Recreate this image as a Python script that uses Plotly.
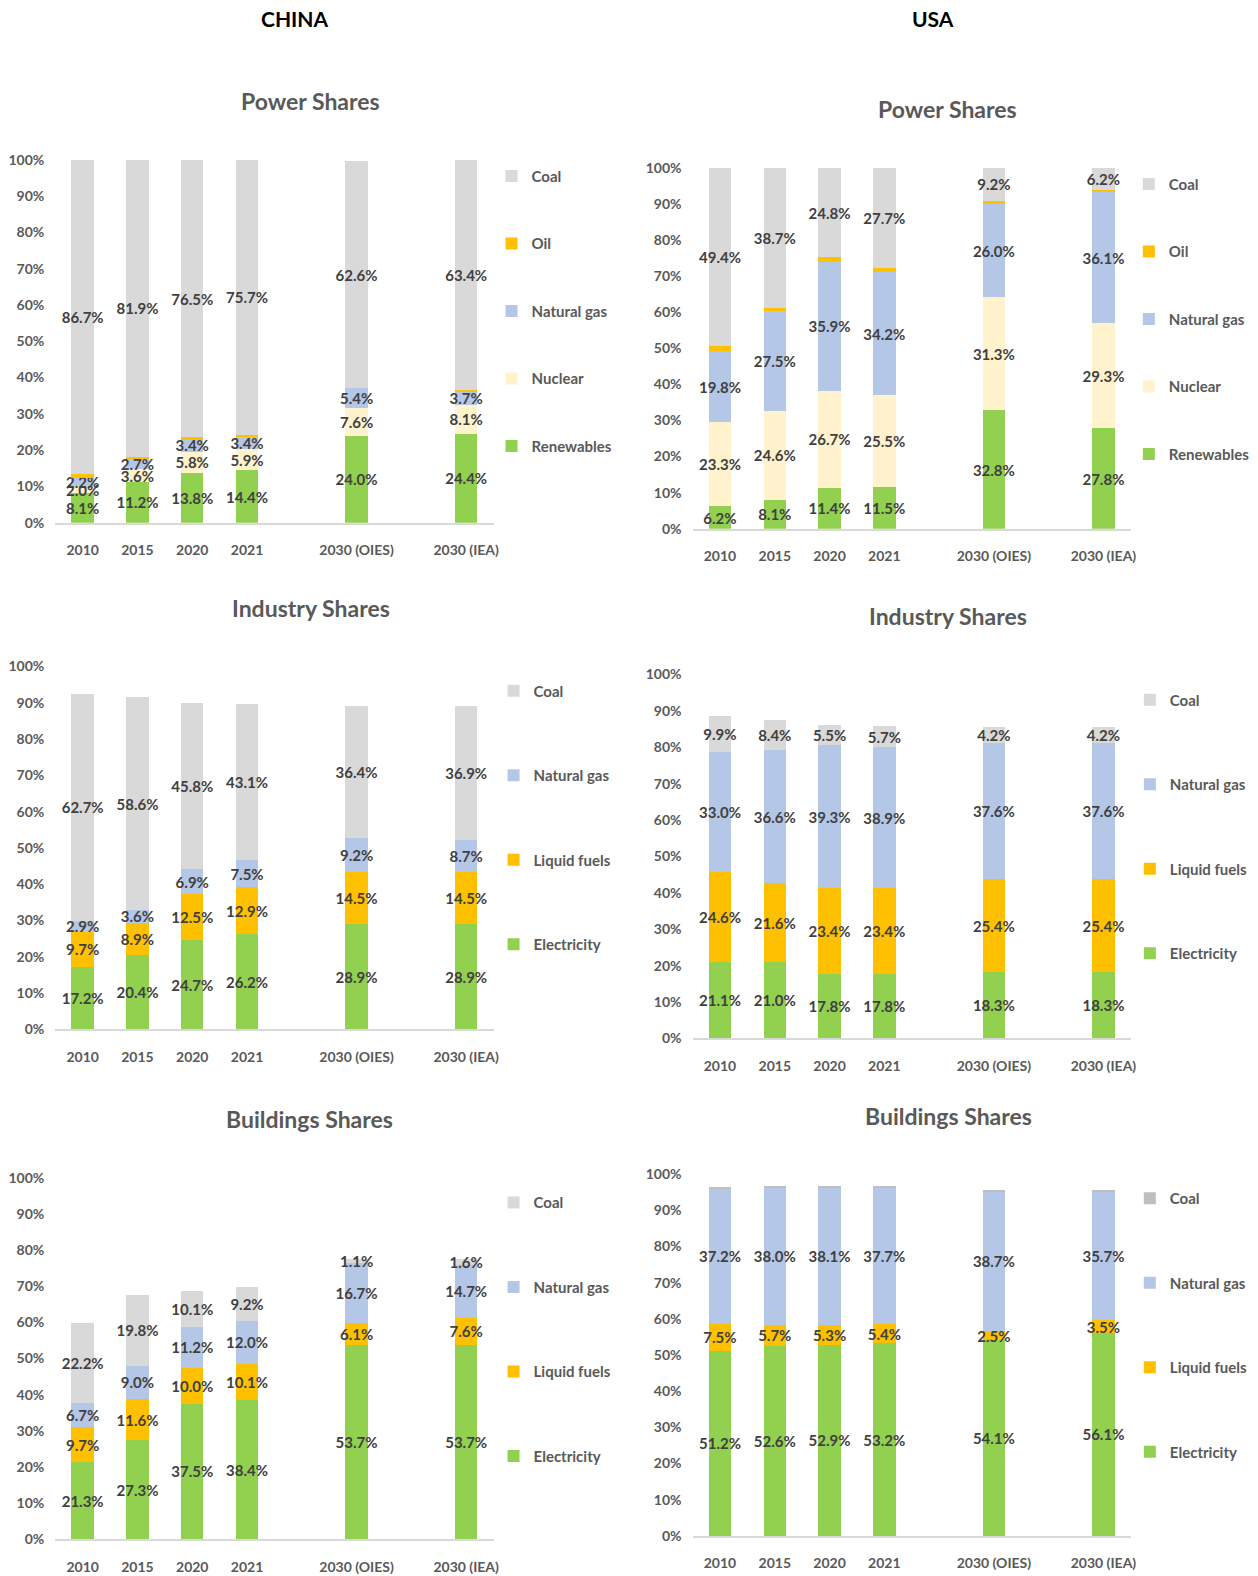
import plotly.graph_objects as go

# ---------------- data ----------------
years = ["2010", "2015", "2020", "2021", "2030 (OIES)", "2030 (IEA)"]
x_slots = ["2010", "2015", "2020", "2021", " ", "2030 (OIES)", "  ", "2030 (IEA)"]
y_ticks = [0, 10, 20, 30, 40, 50, 60, 70, 80, 90, 100]
y_tick_labels = ["0%", "10%", "20%", "30%", "40%", "50%", "60%", "70%", "80%", "90%", "100%"]

# China - power
cn_pow_renew = [8.1, 11.2, 13.8, 14.4, 24.0, 24.4]
cn_pow_nuclear = [2.0, 3.6, 5.8, 5.9, 7.6, 8.1]
cn_pow_gas = [2.2, 2.7, 3.4, 3.4, 5.4, 3.7]
cn_pow_oil = [1.0, 0.6, 0.5, 0.6, 0.0, 0.4]
cn_pow_coal = [86.7, 81.9, 76.5, 75.7, 62.6, 63.4]

# USA - power
us_pow_renew = [6.2, 8.1, 11.4, 11.5, 32.8, 27.8]
us_pow_nuclear = [23.3, 24.6, 26.7, 25.5, 31.3, 29.3]
us_pow_gas = [19.8, 27.5, 35.9, 34.2, 26.0, 36.1]
us_pow_oil = [1.3, 1.1, 1.2, 1.1, 0.7, 0.6]
us_pow_coal = [49.4, 38.7, 24.8, 27.7, 9.2, 6.2]

# China - industry
cn_ind_elec = [17.2, 20.4, 24.7, 26.2, 28.9, 28.9]
cn_ind_liq = [9.7, 8.9, 12.5, 12.9, 14.5, 14.5]
cn_ind_gas = [2.9, 3.6, 6.9, 7.5, 9.2, 8.7]
cn_ind_coal = [62.7, 58.6, 45.8, 43.1, 36.4, 36.9]

# USA - industry
us_ind_elec = [21.1, 21.0, 17.8, 17.8, 18.3, 18.3]
us_ind_liq = [24.6, 21.6, 23.4, 23.4, 25.4, 25.4]
us_ind_gas = [33.0, 36.6, 39.3, 38.9, 37.6, 37.6]
us_ind_coal = [9.9, 8.4, 5.5, 5.7, 4.2, 4.2]

# China - buildings
cn_bld_elec = [21.3, 27.3, 37.5, 38.4, 53.7, 53.7]
cn_bld_liq = [9.7, 11.6, 10.0, 10.1, 6.1, 7.6]
cn_bld_gas = [6.7, 9.0, 11.2, 12.0, 16.7, 14.7]
cn_bld_coal = [22.2, 19.8, 10.1, 9.2, 1.1, 1.6]

# USA - buildings
us_bld_elec = [51.2, 52.6, 52.9, 53.2, 54.1, 56.1]
us_bld_liq = [7.5, 5.7, 5.3, 5.4, 2.5, 3.5]
us_bld_gas = [37.2, 38.0, 38.1, 37.7, 38.7, 35.7]
us_bld_coal = [0.3, 0.3, 0.3, 0.3, 0.3, 0.3]

# ---------------- style ----------------
W, H = 1258, 1576
K = 1.0052  # layout coordinates were measured on a slightly reduced view
FONT = "Lato, Open Sans, sans-serif"
GRAY_TXT = "#595959"
LBL_TXT = "#404040"
C_COAL = "#D9D9D9"
C_COAL_DARK = "#BFBFBF"
C_OIL = "#FFC000"
C_GAS = "#B4C7E7"
C_NUC = "#FFF2CC"
C_GREEN = "#92D050"


def px_x(p):
    return p * K / W


def px_y(p):
    return 1 - p * K / H


# panel: (axis suffix, x-left px, x-right px, y-top px(100%), y-bottom px(0%), legend name, legend x px, legend y px, gap)
panels = [
    ("", 55, 491, 159, 520, "legend", 489, 159, 45,
     [("Renewables", cn_pow_renew, C_GREEN, True), ("Nuclear", cn_pow_nuclear, C_NUC, True),
      ("Natural gas", cn_pow_gas, C_GAS, True), ("Oil", cn_pow_oil, C_OIL, False),
      ("Coal", cn_pow_coal, C_COAL, True)]),
    ("2", 689, 1125, 167, 526, "legend2", 1123, 167, 45,
     [("Renewables", us_pow_renew, C_GREEN, True), ("Nuclear", us_pow_nuclear, C_NUC, True),
      ("Natural gas", us_pow_gas, C_GAS, True), ("Oil", us_pow_oil, C_OIL, False),
      ("Coal", us_pow_coal, C_COAL, True)]),
    ("3", 55, 491, 663, 1024, "legend3", 491, 671, 62,
     [("Electricity", cn_ind_elec, C_GREEN, True), ("Liquid fuels", cn_ind_liq, C_OIL, True),
      ("Natural gas", cn_ind_gas, C_GAS, True), ("Coal", cn_ind_coal, C_COAL, True)]),
    ("4", 689, 1125, 671, 1033, "legend4", 1124, 680, 62,
     [("Electricity", us_ind_elec, C_GREEN, True), ("Liquid fuels", us_ind_liq, C_OIL, True),
      ("Natural gas", us_ind_gas, C_GAS, True), ("Coal", us_ind_coal, C_COAL, True)]),
    ("5", 55, 491, 1172, 1531, "legend5", 491, 1180, 62,
     [("Electricity", cn_bld_elec, C_GREEN, True), ("Liquid fuels", cn_bld_liq, C_OIL, True),
      ("Natural gas", cn_bld_gas, C_GAS, True), ("Coal", cn_bld_coal, C_COAL, True)]),
    ("6", 689, 1125, 1168, 1528, "legend6", 1124, 1176, 62,
     [("Electricity", us_bld_elec, C_GREEN, True), ("Liquid fuels", us_bld_liq, C_OIL, True),
      ("Natural gas", us_bld_gas, C_GAS, True), ("Coal", us_bld_coal, C_COAL_DARK, False)]),
]

fig = go.Figure()
layout = dict(
    template="none",
    width=W, height=H, autosize=False, margin=dict(l=0, r=0, t=0, b=0, pad=0, autoexpand=False),
    paper_bgcolor="white", plot_bgcolor="white",
    barmode="stack", showlegend=True,
    font=dict(family=FONT, color=GRAY_TXT, size=14),
)

for (suf, xl, xr, yt, yb, leg, lx, ly, gap, series) in panels:
    xa = "x" + suf
    ya = "y" + suf
    n = len(series)
    for i, (name, vals, col, show_lbl) in enumerate(series):
        fig.add_trace(go.Bar(
            x=years, y=vals, name=name, xaxis=xa, yaxis=ya,
            marker=dict(color=col, line=dict(width=0)),
            width=0.41,
            text=[f"{v:.1f}%" for v in vals] if show_lbl else None,
            textposition="inside" if show_lbl else "none",
            insidetextanchor="middle", textangle=0, constraintext="none",
            textfont=dict(family=FONT, size=15, color=LBL_TXT, weight="bold"),
            legend=leg, legendgroup=f"{leg}_{i}", legendrank=n - i,
            hoverinfo="skip",
        ))
    layout["xaxis" + suf] = dict(
        domain=[px_x(xl), px_x(xr)], anchor=ya, automargin=False,
        type="category", categoryorder="array", categoryarray=x_slots,
        range=[-0.5, len(x_slots) - 0.5],
        showline=True, linecolor="#D9D9D9", linewidth=1.5,
        showgrid=False, zeroline=False, ticks="", ticklabelstandoff=14,
        tickfont=dict(family=FONT, size=14, color=GRAY_TXT, weight="bold"),
        fixedrange=True,
    )
    layout["yaxis" + suf] = dict(
        domain=[px_y(yb), px_y(yt)], anchor=xa, automargin=False,
        range=[0, 100], tickmode="array", tickvals=y_ticks, ticktext=y_tick_labels,
        showline=False, showgrid=False, zeroline=False, ticks="",
        ticklabelstandoff=10,
        tickfont=dict(family=FONT, size=14, color=GRAY_TXT, weight="bold"),
        fixedrange=True,
    )
    layout[leg] = dict(
        x=px_x(lx), y=px_y(ly), xanchor="left", yanchor="top",
        traceorder="grouped", tracegroupgap=gap,
        bgcolor="rgba(0,0,0,0)", borderwidth=0,
        font=dict(family=FONT, size=15, color=GRAY_TXT, weight="bold"),
    )

annotations = [
    ("CHINA", 293, 18, 21, "black"),
    ("USA", 928, 18, 21, "black"),
    ("Power Shares", 309, 100, 23, GRAY_TXT),
    ("Power Shares", 943, 108, 23, GRAY_TXT),
    ("Industry Shares", 309, 605, 23, GRAY_TXT),
    ("Industry Shares", 943, 613, 23, GRAY_TXT),
    ("Buildings Shares", 308, 1113, 23, GRAY_TXT),
    ("Buildings Shares", 944, 1110, 23, GRAY_TXT),
]
layout["annotations"] = [
    dict(text=t, x=px_x(x), y=px_y(y), xref="paper", yref="paper",
         xanchor="center", yanchor="middle", showarrow=False,
         font=dict(family=FONT, size=s, color=c, weight="bold"))
    for (t, x, y, s, c) in annotations
]

fig.update_layout(**layout)
fig.write_html(
    "out.html",
    config={"displayModeBar": False},
    post_script=(
        "document.documentElement.style.margin='0';"
        "document.body.style.margin='0';"
        "document.body.style.overflow='hidden';"
    ),
)
